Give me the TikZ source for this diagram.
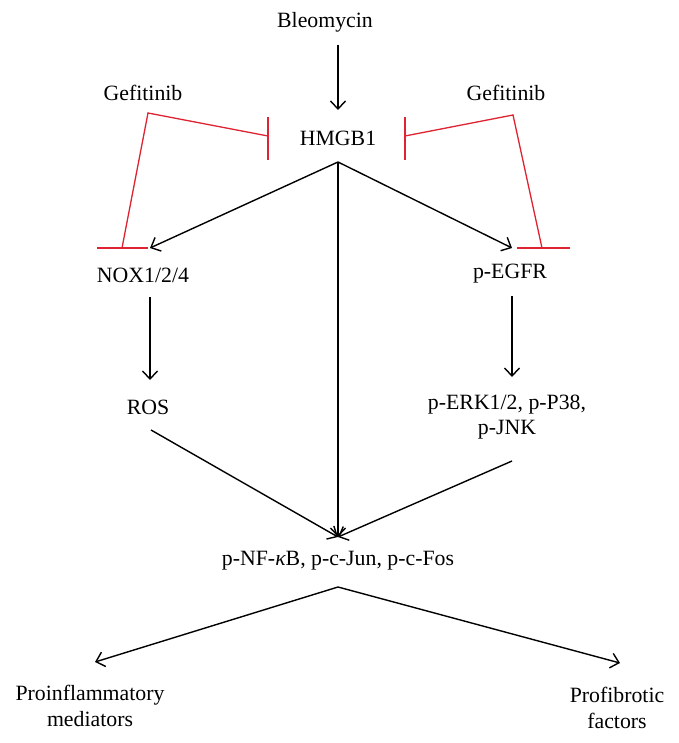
\documentclass[tikz,border=0pt]{standalone}
\usepackage{fontspec}
\setmainfont{Liberation Serif}
\usetikzlibrary{arrows.meta}
\definecolor{inhred}{RGB}{222,36,50}
\tikzset{
  lbl/.style={inner sep=0pt, align=center, font=\fontsize{21.8}{25.5}\selectfont},
  arr/.style={draw=black, line width=1.4pt, -{Straight Barb[length=8pt,width=15pt,line width=1.4pt]}},
  ln/.style={draw=black, line width=1.4pt},
  inh/.style={draw=inhred, line width=1.3pt},
}
\begin{document}
\begin{tikzpicture}[x=1pt,y=-1pt]
\useasboundingbox[fill=white] (0,0) rectangle (678,743);
% text nodes
\node[lbl] (bleo) at (325,22) {Bleomycin};
\node[lbl] (hmgb) at (338,138) {HMGB1};
\node[lbl] (gefL) at (143,93) {Gefitinib};
\node[lbl] (gefR) at (506,93) {Gefitinib};
\node[lbl] (nox) at (143,275) {NOX1/2/4};
\node[lbl] (egfr) at (510,274) {p-EGFR};
\node[lbl] (ros) at (148,407) {ROS};
\node[lbl] (erk) at (507,417) {p-ERK1/2, p-P38,\\p-JNK};
\node[lbl] (nfkb) at (338,561) {p-NF-{\itshape κ}B, p-c-Jun, p-c-Fos};
\node[lbl] (proinf) at (90,706) {Proinflammatory\\mediators};
\node[lbl] (profib) at (617,708) {Profibrotic\\factors};
% connector points
\coordinate (bleoOut) at (338,45);
\coordinate (hmgbIn) at (338,110);
\coordinate (hmgbOut) at (338,162);
\coordinate (noxIn) at (150,248);
\coordinate (egfrIn) at (512,248);
\coordinate (noxOut) at (150,297);
\coordinate (rosIn) at (150,380);
\coordinate (egfrOut) at (512,296);
\coordinate (erkIn) at (512,377);
\coordinate (rosOut) at (151,430);
\coordinate (erkOut) at (512,461);
\coordinate (nfkbIn) at (338,537);
\coordinate (nfkbOut) at (338,587);
\coordinate (proinfIn) at (95,662);
\coordinate (profibIn) at (620,663);
% gefitinib inhibition points
\coordinate (gLapex) at (148,113);
\coordinate (gLh) at (268,136);
\coordinate (gLn) at (122,248);
\coordinate (gRapex) at (513,115);
\coordinate (gRh) at (405,136);
\coordinate (gRe) at (542,248);
% black arrows
\draw[arr] (bleoOut) -- (hmgbIn);
\draw[arr] (hmgbOut) -- (noxIn);
\draw[arr] (hmgbOut) -- (egfrIn);
\draw[arr] (hmgbOut) -- (nfkbIn);
\draw[arr] (noxOut) -- (rosIn);
\draw[arr] (egfrOut) -- (erkIn);
\draw[arr] (rosOut) -- (nfkbIn);
\draw[arr] (erkOut) -- (nfkbIn);
\draw[arr] (nfkbOut) -- (proinfIn);
\draw[arr] (nfkbOut) -- (profibIn);
% red inhibitions
\draw[inh] (gLh) -- (gLapex) -- (gLn);
\draw[inh] ([yshift=-24pt]gLh) -- ([yshift=19pt]gLh);
\draw[inh] ([xshift=-25pt]gLn) -- ([xshift=26pt]gLn);
\draw[inh] (gRh) -- (gRapex) -- (gRe);
\draw[inh] ([yshift=-24pt]gRh) -- ([yshift=19pt]gRh);
\draw[inh] ([xshift=-25pt]gRe) -- ([xshift=28pt]gRe);
\end{tikzpicture}
\end{document}
